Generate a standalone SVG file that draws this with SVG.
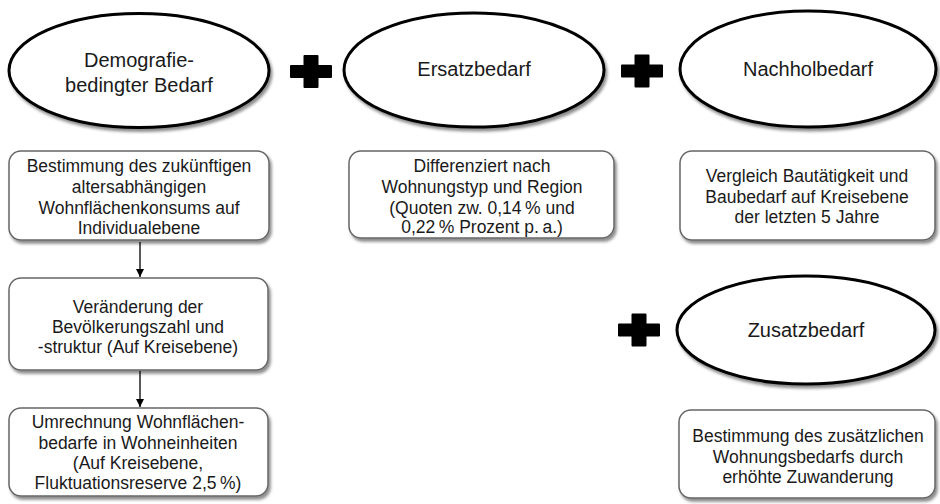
<svg xmlns="http://www.w3.org/2000/svg" width="940" height="504" viewBox="0 0 940 504">
<style>
.ell{fill:#fff;stroke:#000;stroke-width:3;filter:url(#sh)}
.box{fill:#fff;stroke:#666;stroke-width:1.5;filter:url(#sh)}
.et{font-family:"Liberation Sans",Arial,sans-serif;font-size:20px;fill:#1a1a1a;text-anchor:middle}
.bt{font-family:"Liberation Sans",Arial,sans-serif;font-size:17.5px;fill:#1a1a1a;text-anchor:middle}
.plus{fill:#000;stroke:#000;stroke-width:2;stroke-linejoin:round}
.con{stroke:#000;stroke-width:1.3;fill:none;marker-end:url(#ah)}
</style>
<defs>
<filter id="sh" x="-10%" y="-10%" width="125%" height="135%">
<feDropShadow dx="2" dy="3" stdDeviation="1.6" flood-color="#000" flood-opacity="0.45"/>
</filter>
<marker id="ah" viewBox="0 0 10 10" refX="10" refY="5" markerWidth="8" markerHeight="8" markerUnits="userSpaceOnUse" orient="auto">
<path d="M0,0 L10,5 L0,10 z" fill="#000"/>
</marker>
<path id="plusShape" d="M-6.5,-15.5 H6.5 V-5.5 H20 V5.5 H6.5 V15.5 H-6.5 V5.5 H-20 V-5.5 H-6.5 Z"/>
</defs>
<rect width="940" height="504" fill="#fff"/>

<g id="connectors">
<line class="con" x1="140" y1="242" x2="140" y2="277"/>
<line class="con" x1="140" y1="371" x2="140" y2="407"/>
</g>

<g id="plus1"><use href="#plusShape" class="plus" transform="translate(311,71.5)"/></g>
<g id="plus2"><use href="#plusShape" class="plus" transform="translate(642,71)"/></g>
<g id="plus3"><use href="#plusShape" class="plus" transform="translate(639,330)"/></g>

<g id="demografie">
<ellipse class="ell" cx="139" cy="70.5" rx="130" ry="57"/>
<text class="et" x="139" y="67">Demografie-</text>
<text class="et" x="139" y="92">bedingter Bedarf</text>
</g>
<g id="ersatzbedarf">
<ellipse class="ell" cx="474" cy="70" rx="130" ry="57"/>
<text class="et" x="474" y="76">Ersatzbedarf</text>
</g>
<g id="nachholbedarf">
<ellipse class="ell" cx="808" cy="69" rx="128" ry="58"/>
<text class="et" x="808" y="76">Nachholbedarf</text>
</g>
<g id="zusatzbedarf">
<ellipse class="ell" cx="806" cy="330" rx="129" ry="54"/>
<text class="et" x="806" y="337">Zusatzbedarf</text>
</g>

<g id="box1">
<rect class="box" x="9" y="151" width="260" height="89" rx="12"/>
<text class="bt" x="139" y="172">Bestimmung des zukünftigen</text>
<text class="bt" x="139" y="193">altersabhängigen</text>
<text class="bt" x="139" y="214">Wohnflächenkonsums auf</text>
<text class="bt" x="139" y="234">Individualebene</text>
</g>
<g id="box2">
<rect class="box" x="349" y="151" width="265" height="87" rx="12"/>
<text class="bt" x="482" y="172">Differenziert nach</text>
<text class="bt" x="482" y="193">Wohnungstyp und Region</text>
<text class="bt" x="482" y="214">(Quoten zw. 0,14&#8201;% und</text>
<text class="bt" x="482" y="233">0,22&#8201;% Prozent p.&#8201;a.)</text>
</g>
<g id="box3">
<rect class="box" x="680" y="151" width="255" height="89" rx="12"/>
<text class="bt" x="807" y="182">Vergleich Bautätigkeit und</text>
<text class="bt" x="807" y="203">Baubedarf auf Kreisebene</text>
<text class="bt" x="807" y="223">der letzten 5 Jahre</text>
</g>
<g id="box4">
<rect class="box" x="9" y="278" width="259" height="92" rx="12"/>
<text class="bt" x="138" y="313">Veränderung der</text>
<text class="bt" x="138" y="333">Bevölkerungszahl und</text>
<text class="bt" x="138" y="353">-struktur (Auf Kreisebene)</text>
</g>
<g id="box5">
<rect class="box" x="9" y="408" width="259" height="88" rx="12"/>
<text class="bt" x="138" y="428">Umrechnung Wohnflächen-</text>
<text class="bt" x="138" y="449">bedarfe in Wohneinheiten</text>
<text class="bt" x="138" y="469">(Auf Kreisebene,</text>
<text class="bt" x="138" y="489">Fluktuationsreserve 2,5&#8201;%)</text>
</g>
<g id="box6">
<rect class="box" x="679" y="410" width="256" height="88" rx="12"/>
<text class="bt" x="808" y="442">Bestimmung des zusätzlichen</text>
<text class="bt" x="808" y="463">Wohnungsbedarfs durch</text>
<text class="bt" x="808" y="483">erhöhte Zuwanderung</text>
</g>
</svg>
